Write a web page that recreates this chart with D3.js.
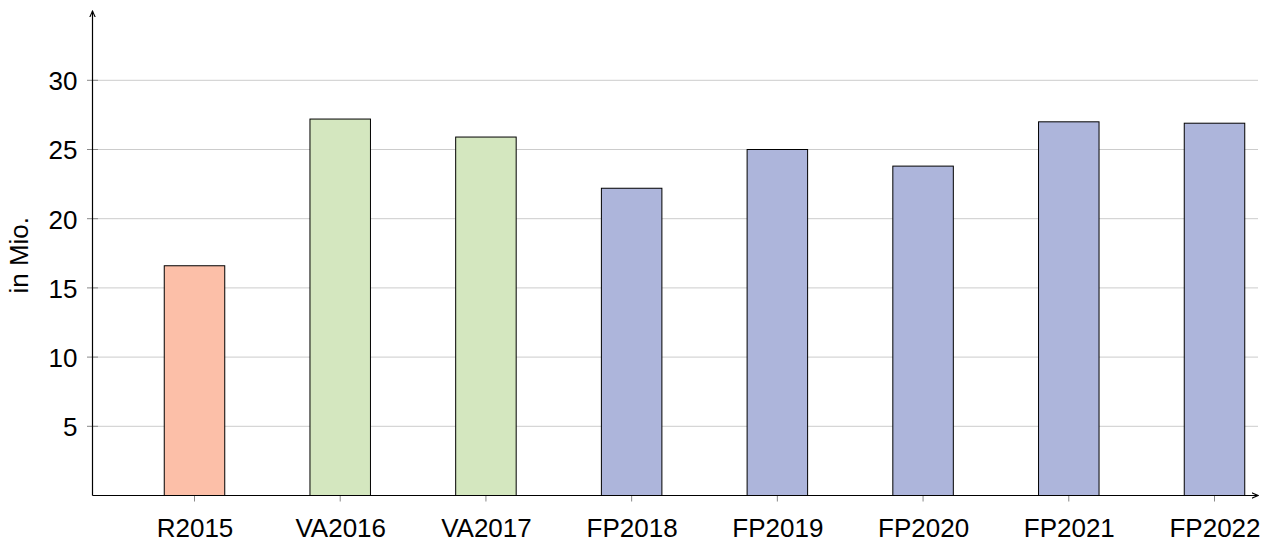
<!DOCTYPE html>
<html>
<head>
<meta charset="utf-8">
<script src="https://cdn.jsdelivr.net/npm/d3@7"></script>
<style>
  html, body { margin: 0; padding: 0; background: #fff; }
  svg { display: block; }
  text { font-family: "Liberation Sans", Arial, Helvetica, sans-serif; fill: #000; }
</style>
</head>
<body>
<svg id="chart" width="1269" height="542"></svg>
<script>
const categories = ["R2015", "VA2016", "VA2017", "FP2018", "FP2019", "FP2020", "FP2021", "FP2022"];
const values = [16.6, 27.2, 25.9, 22.2, 25.0, 23.8, 27.0, 26.9];
const groups = ["R", "VA", "VA", "FP", "FP", "FP", "FP", "FP"];
const groupColors = { R: "#fcbfa8", VA: "#d4e7bf", FP: "#adb5db" };
const yTicks = [5, 10, 15, 20, 25, 30];
const yLabel = "in Mio.";

const svg = d3.select("#chart");
const x0 = 92.5, x1 = 1258, yBase = 495.5, yTop = 11.1;

const y = d3.scaleLinear().domain([0, 35]).range([yBase, yTop]);
const x = d3.scalePoint().domain(categories).range([194.5, 1214.5]);
const barW = 60.5;

// grid
svg.append("g").selectAll("line").data(yTicks).join("line")
  .attr("x1", x0).attr("x2", x1)
  .attr("y1", d => y(d)).attr("y2", d => y(d))
  .attr("stroke", "#cccccc").attr("stroke-width", 1);

// bars
svg.append("g").selectAll("rect").data(categories).join("rect")
  .attr("x", d => x(d) - barW / 2)
  .attr("width", barW)
  .attr("y", (d, i) => y(values[i]))
  .attr("height", (d, i) => yBase - y(values[i]))
  .attr("fill", (d, i) => groupColors[groups[i]])
  .attr("stroke", "#000").attr("stroke-width", 1);

// y ticks
const yAxis = d3.axisLeft(y).tickValues(yTicks).tickSize(0).tickFormat(d3.format("d"));
const ya = svg.append("g").attr("transform", `translate(${x0},0)`).call(yAxis);
ya.select(".domain").remove();
ya.selectAll("text").attr("x", -15).attr("dy", "0.36em")
  .style("font-size", "26px").style("font-family", '"Liberation Sans", Arial, sans-serif').attr("fill", "#000");
svg.append("g").selectAll("line").data(yTicks).join("line")
  .attr("x1", x0 - 5.5).attr("x2", x0 + 5.5)
  .attr("y1", d => y(d)).attr("y2", d => y(d))
  .attr("stroke", "#888").attr("stroke-width", 1);

// x ticks
const xAxis = d3.axisBottom(x).tickSize(0);
const xa = svg.append("g").attr("transform", `translate(0,${yBase})`).call(xAxis);
xa.select(".domain").remove();
xa.selectAll("text").attr("y", 0).attr("dy", 41.5)
  .style("font-size", "26px").style("font-family", '"Liberation Sans", Arial, sans-serif').attr("fill", "#000");
svg.append("g").selectAll("line").data(categories).join("line")
  .attr("x1", d => x(d)).attr("x2", d => x(d))
  .attr("y1", yBase).attr("y2", yBase + 6)
  .attr("stroke", "#888").attr("stroke-width", 1);

// axes lines with arrows
const defs = svg.append("defs");
defs.append("marker").attr("id", "arr").attr("viewBox", "0 0 10 10")
  .attr("refX", 9).attr("refY", 5).attr("markerWidth", 7).attr("markerHeight", 7)
  .attr("markerUnits", "userSpaceOnUse").attr("orient", "auto")
  .append("path").attr("d", "M0,1 L9,5 L0,9").attr("fill", "none").attr("stroke", "#000").attr("stroke-width", 1.6);

svg.append("line").attr("x1", x0).attr("x2", x0).attr("y1", yBase).attr("y2", yTop)
  .attr("stroke", "#000").attr("stroke-width", 1.2).attr("marker-end", "url(#arr)");
svg.append("line").attr("x1", x0).attr("x2", x1).attr("y1", yBase).attr("y2", yBase)
  .attr("stroke", "#000").attr("stroke-width", 1.2).attr("marker-end", "url(#arr)");

// y label
svg.append("text").attr("transform", `translate(28,${(yBase + yTop) / 2 + 2}) rotate(-90)`)
  .attr("text-anchor", "middle").style("font-size", "26px").text(yLabel);
</script>
</body>
</html>
